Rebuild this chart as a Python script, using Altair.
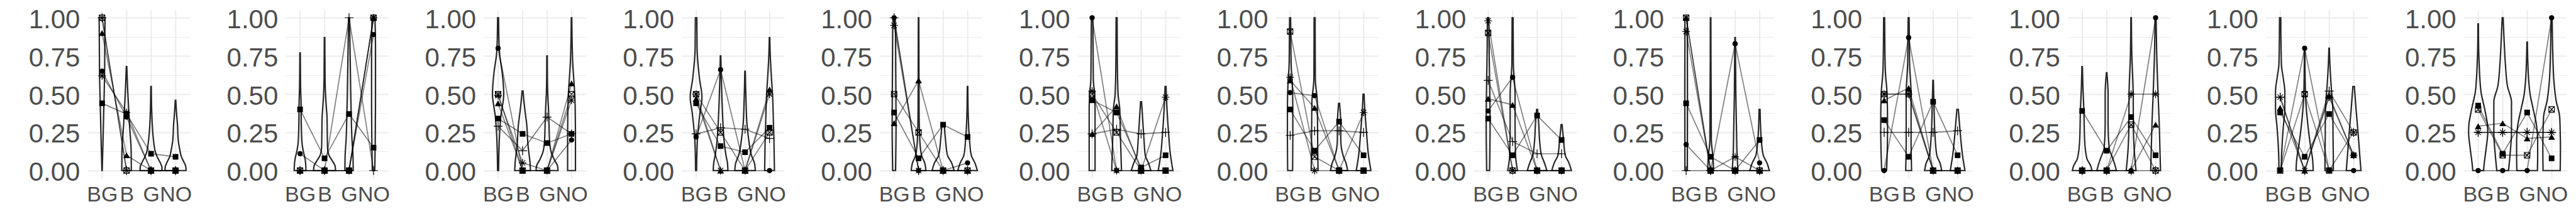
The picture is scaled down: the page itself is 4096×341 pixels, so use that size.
import json
import altair as alt
import pandas as pd

CATEGORIES = ["BG", "B", "G", "NO"]
SUBJECTS = ["circle", "square", "triangle", "plus", "asterisk", "boxx"]

# ---- point values per panel: subject -> [BG, B, G, NO]
P01 = {"circle": [0.65, 0.35, 0, 0], "square": [0.44, 0.37, 0.11, 0.09], "triangle": [0.90, 0.10, 0, 0],
       "plus": [1.0, 0, 0, 0], "asterisk": [0.62, 0.38, 0, 0], "boxx": [1.0, 0, 0, 0]}
P02 = {"circle": [0.11, 0, 0, 0.89], "square": [0.40, 0.08, 0.37, 0.15], "triangle": [0, 0, 0, 1.0],
       "plus": [0, 0, 1.0, 0], "asterisk": [0, 0, 0, 1.0], "boxx": [0, 0, 0, 1.0]}
P03 = {"circle": [0.80, 0, 0, 0.20], "square": [0.34, 0.24, 0.18, 0.24], "triangle": [0.44, 0, 0, 0.57],
       "plus": [0.29, 0.13, 0.35, 0.24], "asterisk": [0.49, 0.05, 0, 0.46], "boxx": [0.50, 0, 0, 0.50]}
P04 = {"circle": [0.22, 0.66, 0, 0], "square": [0.44, 0.16, 0.12, 0.28], "triangle": [0.47, 0, 0, 0.53],
       "plus": [0.24, 0.28, 0.27, 0.21], "asterisk": [0.50, 0, 0, 0.50], "boxx": [0.50, 0.25, 0, 0.25]}
P05 = {"circle": [1.0, 0, 0, 0.05], "square": [0.38, 0.08, 0.30, 0.22], "triangle": [0.31, 0.59, 0, 0],
       "plus": [1.0, 0, 0, 0], "asterisk": [0.95, 0, 0, 0], "boxx": [0.50, 0.25, 0, 0]}
P06 = {"circle": [1.0, 0, 0, 0], "square": [0.46, 0.38, 0.02, 0.10], "triangle": [0.24, 0.42, 0, 0],
       "plus": [0.24, 0.27, 0.24, 0.25], "asterisk": [0.52, 0, 0, 0.48], "boxx": [0.50, 0.25, 0, 0]}
P07 = {"circle": [0.51, 0.49, 0, 0], "square": [0.40, 0.13, 0.32, 0.10], "triangle": [0.59, 0.41, 0, 0],
       "plus": [0.23, 0.26, 0.26, 0.25], "asterisk": [0.61, 0, 0, 0.38], "boxx": [0.91, 0.09, 0, 0]}
P08 = {"circle": [0.39, 0.61, 0, 0], "square": [0.34, 0.10, 0.36, 0.20], "triangle": [0.47, 0.43, 0, 0],
       "plus": [0.59, 0.19, 0.11, 0.11], "asterisk": [0.98, 0, 0, 0], "boxx": [0.90, 0, 0, 0]}
P09 = {"circle": [0.17, 0, 0.83, 0.05], "square": [0.44, 0.09, 0, 0.20], "triangle": [1.0, 0, 0, 0],
       "plus": [0, 0, 0, 0], "asterisk": [0.91, 0, 0.09, 0], "boxx": [1.0, 0, 0, 0]}
P10 = {"circle": [0, 0.87, 0, 0], "square": [0.33, 0.09, 0.45, 0.10], "triangle": [0.46, 0.54, 0, 0],
       "plus": [0.25, 0.25, 0.25, 0.26], "asterisk": [0.50, 0.50, 0, 0], "boxx": [0.50, 0.50, 0, 0]}
P11 = {"circle": [0, 0, 0, 1.0], "square": [0.39, 0.13, 0.35, 0.10], "triangle": [0, 0, 0, 0.30],
       "plus": [0, 0, 0, 0], "asterisk": [0, 0, 0.50, 0.50], "boxx": [0, 0, 0.30, 0]}
P12 = {"circle": [0, 0.80, 0, 0], "square": [0.38, 0.09, 0.37, 0.10], "triangle": [0.41, 0, 0.49, 0.10],
       "plus": [0.48, 0, 0.52, 0.25], "asterisk": [0.48, 0, 0.48, 0.10], "boxx": [0, 0.50, 0, 0.25]}
P13 = {"circle": [0, 0, 0, 1.0], "square": [0.425, 0.11, 0.38, 0.08], "triangle": [0.29, 0.31, 0.21, 0.22],
       "plus": [0.25, 0.25, 0.25, 0.25], "asterisk": [0.25, 0.25, 0.25, 0.25], "boxx": [0.40, 0.10, 0.10, 0.40]}
POINTS = [P01, P02, P03, P04, P05, P06, P07, P08, P09, P10, P11, P12, P13]

# ---- violin outlines per panel: category -> [(value, half-width in category units)]
V01 = {"BG": [(0, 0.005), (0.2, 0.04), (0.4, 0.07), (0.6, 0.10), (0.8, 0.11), (1.0, 0.12)],
       "B": [(0, 0.195), (0.12, 0.19), (0.3, 0.12), (0.45, 0.07), (0.55, 0.04), (0.68, 0.01)],
       "G": [(0, 0.45), (0.025, 0.44), (0.05, 0.38), (0.09, 0.25), (0.12, 0.18), (0.2, 0.10), (0.3, 0.05), (0.4, 0.025), (0.55, 0.01)],
       "NO": [(0, 0.43), (0.025, 0.42), (0.05, 0.36), (0.09, 0.24), (0.14, 0.17), (0.2, 0.11), (0.3, 0.08), (0.38, 0.04), (0.46, 0.01)]}
V02 = {"BG": [(0, 0.24), (0.04, 0.23), (0.08, 0.20), (0.12, 0.14), (0.18, 0.08), (0.3, 0.05), (0.45, 0.04), (0.55, 0.02), (0.77, 0.01)],
       "B": [(0, 0.45), (0.03, 0.43), (0.06, 0.33), (0.1, 0.18), (0.15, 0.12), (0.25, 0.11), (0.35, 0.10), (0.42, 0.07), (0.5, 0.04), (0.6, 0.02), (0.87, 0.01)],
       "G": [(0, 0.17), (0.1, 0.16), (0.2, 0.12), (0.35, 0.09), (0.5, 0.07), (0.7, 0.05), (0.9, 0.03), (1.0, 0.02)],
       "NO": [(0, 0.05), (0.2, 0.07), (0.5, 0.08), (0.8, 0.08), (1.0, 0.06)]}
V03 = {"BG": [(0, 0.02), (0.1, 0.03), (0.25, 0.064), (0.35, 0.11), (0.5, 0.23), (0.65, 0.16), (0.75, 0.07), (0.85, 0.035), (1.0, 0.02)],
       "B": [(0, 0.32), (0.06, 0.30), (0.1, 0.27), (0.17, 0.22), (0.3, 0.17), (0.39, 0.10), (0.48, 0.04), (0.52, 0.02)],
       "G": [(0, 0.45), (0.03, 0.43), (0.07, 0.30), (0.12, 0.17), (0.2, 0.10), (0.3, 0.08), (0.4, 0.06), (0.5, 0.03), (0.6, 0.015), (0.75, 0.01)],
       "NO": [(0, 0.16), (0.2, 0.16), (0.4, 0.15), (0.5, 0.13), (0.6, 0.09), (0.7, 0.05), (0.8, 0.03), (1.0, 0.01)]}
V04 = {"BG": [(0, 0.02), (0.1, 0.03), (0.22, 0.06), (0.38, 0.16), (0.48, 0.24), (0.6, 0.14), (0.8, 0.04), (1.0, 0.03)],
       "B": [(0, 0.30), (0.05, 0.28), (0.1, 0.22), (0.2, 0.14), (0.3, 0.10), (0.45, 0.06), (0.6, 0.03), (0.75, 0.01)],
       "G": [(0, 0.42), (0.05, 0.38), (0.1, 0.26), (0.2, 0.15), (0.3, 0.08), (0.45, 0.04), (0.65, 0.01)],
       "NO": [(0, 0.20), (0.1, 0.19), (0.2, 0.18), (0.3, 0.16), (0.5, 0.12), (0.6, 0.08), (0.75, 0.03), (0.87, 0.01)]}
V05 = {"BG": [(0, 0.06), (0.3, 0.08), (0.6, 0.07), (0.9, 0.06), (1.0, 0.04)],
       "B": [(0, 0.30), (0.05, 0.25), (0.1, 0.12), (0.2, 0.05), (0.4, 0.02), (1.0, 0.01)],
       "G": [(0, 0.45), (0.05, 0.35), (0.1, 0.18), (0.2, 0.10), (0.3, 0.05)],
       "NO": [(0, 0.40), (0.05, 0.30), (0.1, 0.15), (0.2, 0.08), (0.35, 0.03), (0.55, 0.01)]}
V06 = {"BG": [(0, 0.12), (0.2, 0.12), (0.4, 0.12), (0.5, 0.10), (0.6, 0.05), (0.8, 0.04), (1.0, 0.03)],
       "B": [(0, 0.20), (0.1, 0.18), (0.2, 0.16), (0.4, 0.13), (0.5, 0.06), (0.7, 0.03), (1.0, 0.02)],
       "G": [(0, 0.40), (0.05, 0.30), (0.1, 0.17), (0.2, 0.12), (0.35, 0.06), (0.45, 0.02)],
       "NO": [(0, 0.30), (0.1, 0.20), (0.25, 0.12), (0.4, 0.06), (0.55, 0.02)]}
V07 = {"BG": [(0, 0.10), (0.2, 0.11), (0.4, 0.11), (0.58, 0.085), (0.7, 0.04), (0.85, 0.03), (1.0, 0.02)],
       "B": [(0, 0.14), (0.1, 0.13), (0.3, 0.12), (0.45, 0.11), (0.6, 0.03), (1.0, 0.02)],
       "G": [(0, 0.35), (0.05, 0.28), (0.09, 0.18), (0.2, 0.07), (0.3, 0.07), (0.44, 0.02)],
       "NO": [(0, 0.30), (0.1, 0.20), (0.25, 0.12), (0.4, 0.05), (0.5, 0.02)]}
V08 = {"BG": [(0, 0.06), (0.3, 0.08), (0.6, 0.06), (0.8, 0.04), (1.0, 0.03)],
       "B": [(0, 0.20), (0.1, 0.12), (0.3, 0.10), (0.5, 0.10), (0.7, 0.03), (1.0, 0.02)],
       "G": [(0, 0.40), (0.05, 0.30), (0.1, 0.18), (0.2, 0.10), (0.3, 0.07), (0.4, 0.02)],
       "NO": [(0, 0.40), (0.05, 0.30), (0.1, 0.15), (0.2, 0.08), (0.3, 0.02)]}
V09 = {"BG": [(0, 0.05), (0.5, 0.055), (1.0, 0.05)],
       "B": [(0, 0.12), (0.08, 0.10), (0.2, 0.03), (1.0, 0.01)],
       "G": [(0, 0.12), (0.1, 0.08), (0.25, 0.06), (0.5, 0.03), (0.87, 0.01)],
       "NO": [(0, 0.40), (0.05, 0.30), (0.1, 0.15), (0.2, 0.07), (0.4, 0.02)]}
V10 = {"BG": [(0, 0.10), (0.15, 0.13), (0.3, 0.14), (0.5, 0.12), (0.65, 0.05), (0.8, 0.03), (1.0, 0.02)],
       "B": [(0, 0.12), (0.2, 0.10), (0.5, 0.10), (0.7, 0.04), (0.85, 0.03), (1.0, 0.02)],
       "G": [(0, 0.35), (0.05, 0.28), (0.1, 0.15), (0.25, 0.07), (0.4, 0.04), (0.59, 0.01)],
       "NO": [(0, 0.30), (0.1, 0.20), (0.26, 0.10), (0.4, 0.03)]}
V11 = {"BG": [(0, 0.40), (0.03, 0.35), (0.08, 0.19), (0.2, 0.10), (0.4, 0.07), (0.55, 0.03), (0.68, 0.01)],
       "B": [(0, 0.40), (0.03, 0.35), (0.08, 0.25), (0.15, 0.10), (0.3, 0.06), (0.5, 0.06), (0.64, 0.01)],
       "G": [(0, 0.20), (0.15, 0.12), (0.3, 0.09), (0.5, 0.085), (0.75, 0.03), (1.0, 0.01)],
       "NO": [(0, 0.20), (0.3, 0.15), (0.5, 0.10), (0.8, 0.04), (1.0, 0.02)]}
V12 = {"BG": [(0, 0.05), (0.08, 0.056), (0.17, 0.08), (0.29, 0.13), (0.4, 0.19), (0.52, 0.19), (0.6, 0.13), (0.7, 0.05), (1.0, 0.025)],
       "B": [(0, 0.35), (0.08, 0.32), (0.15, 0.25), (0.3, 0.13), (0.45, 0.05), (0.6, 0.02), (0.8, 0.01)],
       "G": [(0, 0.17), (0.08, 0.17), (0.2, 0.16), (0.4, 0.15), (0.55, 0.085), (0.7, 0.03), (0.8, 0.01)],
       "NO": [(0, 0.30), (0.1, 0.25), (0.25, 0.18), (0.4, 0.10), (0.55, 0.03)]}
V13 = {"BG": [(0, 0.22), (0.05, 0.25), (0.1, 0.29), (0.15, 0.33), (0.25, 0.39), (0.3, 0.38), (0.35, 0.33), (0.4, 0.27), (0.45, 0.20), (0.5, 0.13), (0.6, 0.07), (0.7, 0.04), (0.8, 0.02), (0.96, 0.01)],
       "B": [(0, 0.24), (0.1, 0.30), (0.25, 0.36), (0.45, 0.36), (0.55, 0.20), (0.7, 0.11), (0.85, 0.06), (1.0, 0.02)],
       "G": [(0, 0.42), (0.1, 0.43), (0.2, 0.43), (0.3, 0.38), (0.4, 0.25), (0.5, 0.12), (0.6, 0.06), (0.7, 0.03), (0.84, 0.01)],
       "NO": [(0, 0.35), (0.15, 0.36), (0.25, 0.35), (0.35, 0.33), (0.46, 0.18), (0.57, 0.10), (0.75, 0.05), (0.9, 0.03), (1.0, 0.02)]}
VIOLINS = [V01, V02, V03, V04, V05, V06, V07, V08, V09, V10, V11, V12, V13]

Y_TICKS = [i * 0.125 for i in range(9)]

# ---- tables built from the arrays above
vrows, prows = [], []
for p, (pts, vio) in enumerate(zip(POINTS, VIOLINS)):
    for k, cat in enumerate(CATEGORIES):
        for v, w in vio[cat]:
            vrows.append({"panel": p, "cat": cat, "y": v, "xl": k + 1 - w, "xr": k + 1 + w})
        for s in SUBJECTS:
            prows.append({"panel": p, "subject": s, "x": k + 1, "y": pts[s][k]})
vdf = pd.DataFrame(vrows)
pdf = pd.DataFrame(prows)

FONT = "Liberation Sans"
LABEL_COLOR = "#4D4D4D"
GRID = "#EBEBEB"

xscale = alt.Scale(domain=[0.4, 4.6], nice=False, zero=False)
yscale = alt.Scale(domain=[-0.05, 1.05], nice=False, zero=False)
xaxis = alt.Axis(values=[1, 2, 3, 4], labelExpr=json.dumps(CATEGORIES) + "[datum.value - 1]",
                 title=None, domain=False, ticks=False, labelFontSize=34, labelFont=FONT,
                 labelColor=LABEL_COLOR, labelPadding=10, gridColor=GRID, gridWidth=2.0,
                 labelFlush=False, labelOverlap=False, labelAngle=0)
yaxis = alt.Axis(values=Y_TICKS,
                 labelExpr="datum.value % 0.25 == 0 ? format(datum.value, '.2f') : ''",
                 title=None, domain=False, ticks=False, labelFontSize=42, labelFont=FONT,
                 labelColor=LABEL_COLOR, labelPadding=12, labelOffset=3, gridColor=GRID,
                 gridWidth={"condition": {"test": "datum.value % 0.25 != 0", "value": 1.1}, "value": 2.0},
                 labelFlush=False, labelOverlap=False)

SHAPES = {
    "circle": ("circle", True, 68),
    "square": ("square", True, 80),
    "triangle": ("triangle-up", True, 115),
    "plus": ("M-1,0L1,0M0,-1L0,1", False, 200),
    "asterisk": ("M-1,0L1,0M0,-1L0,1M-0.7,-0.7L0.7,0.7M-0.7,0.7L0.7,-0.7", False, 150),
    "boxx": ("M-1,-1L1,-1L1,1L-1,1ZM-1,-1L1,1M-1,1L1,-1", False, 78),
}

panels = []
for p in range(len(POINTS)):
    vd = vdf[vdf.panel == p]
    pd_ = pdf[pdf.panel == p]
    violin = alt.Chart(vd).mark_area(
        orient="horizontal", interpolate="monotone", fillOpacity=0,
        stroke="#262626", strokeWidth=2.2
    ).encode(
        x=alt.X("xl:Q", scale=xscale, axis=xaxis),
        x2="xr:Q",
        y=alt.Y("y:Q", scale=yscale, axis=yaxis),
        detail="cat:N",
    )
    lines = alt.Chart(pd_).mark_line(color="black", opacity=0.5, strokeWidth=1.7).encode(
        x=alt.X("x:Q", scale=xscale, axis=xaxis),
        y=alt.Y("y:Q", scale=yscale, axis=yaxis),
        detail="subject:N",
    )
    layers = [violin, lines]
    for s in SUBJECTS:
        shape, filled, size = SHAPES[s]
        layers.append(
            alt.Chart(pd_).transform_filter(alt.datum.subject == s).mark_point(
                shape=shape, filled=filled, size=size, color="black", opacity=1,
                strokeWidth=1.2
            ).encode(
                x=alt.X("x:Q", scale=xscale, axis=xaxis),
                y=alt.Y("y:Q", scale=yscale, axis=yaxis),
            )
        )
    panels.append(alt.layer(*layers).properties(width=163.6, height=268))

chart = alt.hconcat(*panels, spacing=151, bounds="flush").properties(
    padding={"left": 37, "top": 2, "right": 5, "bottom": 5}
).configure_view(stroke=None)

chart.save("out.html", embed_options={"renderer": "svg", "actions": False})
